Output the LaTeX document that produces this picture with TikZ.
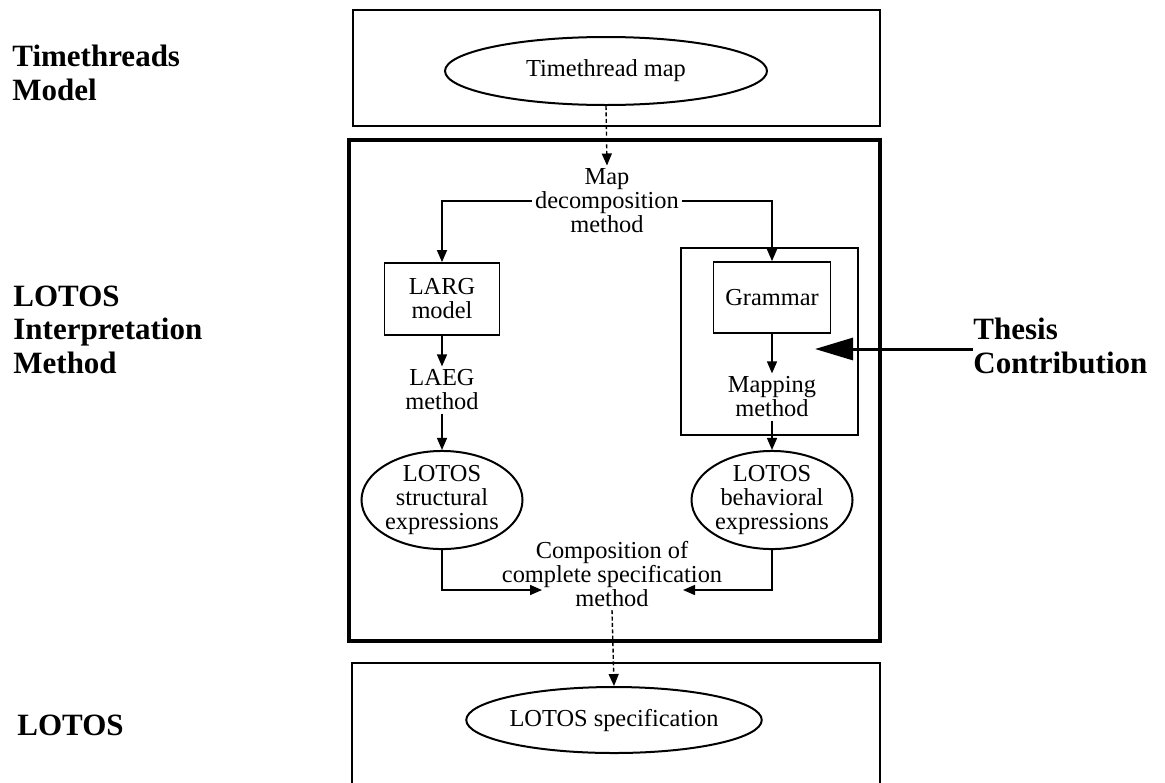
\documentclass[tikz,border=0pt]{standalone}
\usepackage{fontspec}
\setmainfont{Liberation Serif}
\usetikzlibrary{arrows.meta,shapes.geometric}

\begin{document}
\begin{tikzpicture}[x=0.5pt,y=-0.5pt,
  lbl/.style={font=\fontsize{15.5}{16.75}\selectfont\bfseries, align=left, anchor=base west, inner sep=0pt},
  txt/.style={font=\fontsize{12.2}{12}\selectfont, align=center, inner sep=1.5pt},
  panel/.style={draw, line width=1pt},
  frame/.style={draw, line width=2pt},
  stepbox/.style={draw, line width=0.9pt, font=\fontsize{12.2}{12}\selectfont, align=center, inner sep=0pt},
  oval/.style={draw, ellipse, line width=1pt, inner sep=0pt, font=\fontsize{12.2}{12}\selectfont, align=center},
  conn/.style={line width=0.7pt, -{Triangle[length=6pt,width=5pt]}},
  dconn/.style={conn, dash pattern=on 2pt off 1.2pt},
  bigarrow/.style={line width=1.5pt, -{Triangle[length=19pt,width=11pt]}},
]
\useasboundingbox (0,0) rectangle (1165,782);
\clip (0,0) rectangle (1165,782);

% level captions (anchored on the baseline of their last line)
\node[lbl] (cap1) at (12,100) {Timethreads\\Model};
\node[lbl] (cap2) at (13,373) {LOTOS\\Interpretation\\Method};
\node[lbl] (cap3) at (17,735) {LOTOS};
\node[lbl] (thesis) at (973,373) {Thesis\\Contribution};

% panels
\draw[panel] (353,10) rectangle (880,126);
\draw[frame] (349,140) rectangle (880,641);
\draw[panel, line width=1.2pt] (352,663) rectangle (880,786);
\draw[panel, line width=0.9pt] (681,248) rectangle (858,435);

% top level
\node[oval, minimum width=161pt, minimum height=34pt] (tmap) at (606,71) {Timethread map};

% interpretation method
\node[txt] (mapdec) at (607,201) {Map\\decomposition\\method};
\node[stepbox, minimum width=57.5pt, minimum height=36pt] (larg) at (442,299) {LARG\\model};
\node[stepbox, minimum width=58.5pt, minimum height=35.5pt] (gram) at (772,297.5) {Grammar};
\node[txt] (laeg) at (442,390) {LAEG\\method};
\node[txt] (mapm) at (772,397) {Mapping\\method};
\node[oval, minimum width=78pt, minimum height=46pt] (lstruct) at (442,500) {LOTOS\\structural\\expressions};
\node[oval, minimum width=76pt, minimum height=46pt] (lbeh) at (772,500) {LOTOS\\behavioral\\expressions};
\node[txt] (comp) at (612,574) {Composition of\\complete specification\\method};
\coordinate (compL) at (542,590);
\coordinate (compR) at (683,590);

% bottom level
\node[oval, minimum width=141pt, minimum height=33pt] (lspec) at (614,720) {LOTOS specification};

% connectors
\draw[dconn] (tmap.south) -- (mapdec.north);
\draw[conn] (mapdec.west) -| (larg.north);
\draw[conn] (mapdec.east) -| (gram.north);
\draw[conn] (larg.south) -- (laeg.north);
\draw[conn] (laeg.south) -- (lstruct.north);
\draw[conn] (gram.south) -- (mapm.north);
\draw[conn] (mapm.south) -- (lbeh.north);
\draw[conn] (lstruct.south) |- (compL);
\draw[conn] (lbeh.south) |- (compR);
\draw[dconn] (comp.south) -- (lspec.north);

\coordinate (tip) at (815,349);
\draw[bigarrow] (thesis.west |- tip) -- (tip);
\end{tikzpicture}
\end{document}
